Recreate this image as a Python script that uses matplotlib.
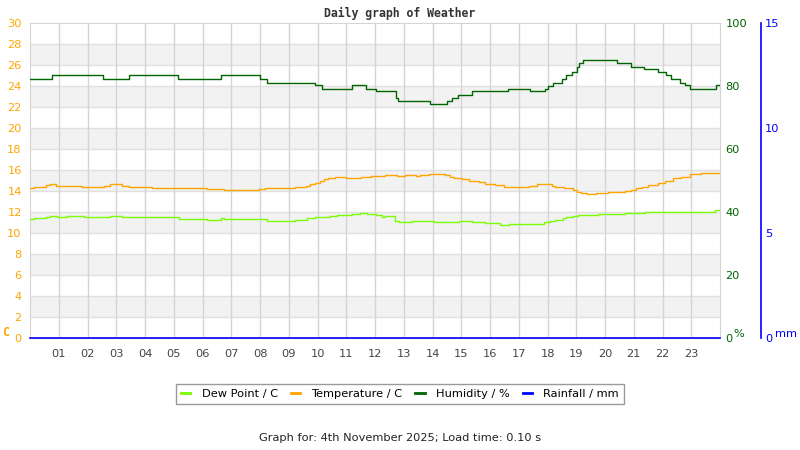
import matplotlib
matplotlib.use("Agg")

import matplotlib.pyplot as plt

# hour of day -> value (sample and hold)
hum_t = [0, 0.77, 2.53, 3.43, 5.14, 6.65, 8.0, 8.23, 9.93, 10.17, 11.21, 11.67, 12.05, 12.73, 12.8,
         13.92, 14.5, 14.67, 14.9, 15.36, 16.64, 17.39, 17.91, 18.03, 18.2, 18.49, 18.66, 18.84,
         19.01, 19.09, 19.24, 20.42, 20.89, 21.35, 21.84, 22.13, 22.31, 22.6, 22.77, 22.94, 23.87, 24]
hum_v = [82.2, 83.4, 82.2, 83.4, 82.2, 83.4, 82.2, 81.1, 80.2, 79.2, 80.2, 79.2, 78.4, 76.3, 75.1,
         74.2, 75.1, 76.3, 77.3, 78.4, 79.2, 78.4, 79.2, 80.1, 81.1, 82.1, 83.4, 84.4,
         86.1, 87.2, 88.2, 87.2, 86.1, 85.5, 84.4, 83.4, 82.2, 81.1, 80.2, 79.2, 80.2, 80.2]

temp_t = [0, 0.13, 0.54, 0.68, 0.91, 1.81, 2.56, 2.79, 3.2, 3.43, 4.24, 6.16, 6.74, 7.95, 8.19,
          9.23, 9.61, 9.75, 9.92, 10.07, 10.21, 10.36, 10.6, 10.99, 11.51, 11.86, 12.25, 12.36,
          12.77, 13.06, 13.41, 13.58, 13.87, 14.45, 14.62, 14.74, 15.03, 15.26, 15.61, 15.84,
          16.18, 16.48, 17.34, 17.63, 18.14, 18.26, 18.59, 18.87, 19.01, 19.16, 19.36, 19.7,
          20.11, 20.69, 20.89, 21.09, 21.29, 21.5, 21.84, 22.08, 22.37, 22.66, 22.94, 23.35, 24]
temp_v = [14.29, 14.38, 14.54, 14.63, 14.5, 14.35, 14.5, 14.63, 14.5, 14.35, 14.25, 14.19, 14.06,
          14.19, 14.29, 14.38, 14.5, 14.67, 14.79, 14.92, 15.11, 15.2, 15.3, 15.2, 15.3, 15.46,
          15.4, 15.52, 15.4, 15.56, 15.43, 15.56, 15.65, 15.49, 15.33, 15.2, 15.11, 14.95, 14.83,
          14.7, 14.57, 14.35, 14.5, 14.63, 14.5, 14.35, 14.25, 14.13, 13.94, 13.78, 13.68, 13.78,
          13.87, 14.0, 14.13, 14.25, 14.38, 14.6, 14.73, 14.95, 15.2, 15.33, 15.59, 15.68, 15.68]

dew_t = [0, 0.13, 0.54, 0.71, 0.94, 1.29, 1.87, 2.79, 3.2, 3.49, 5.17, 6.16, 6.63, 6.74, 8.25,
         9.23, 9.63, 9.92, 10.16, 10.44, 10.68, 11.2, 11.49, 11.72, 12.0, 12.02, 12.25, 12.36,
         12.71, 12.83, 13.29, 14.04, 14.91, 15.37, 15.84, 16.36, 16.65, 17.4, 17.87, 18.08,
         18.26, 18.54, 18.66, 18.9, 19.07, 19.76, 20.11, 20.69, 21.38, 21.84, 23.35, 23.81, 24]
dew_v = [11.3, 11.4, 11.52, 11.65, 11.52, 11.59, 11.49, 11.59, 11.52, 11.49, 11.3, 11.2, 11.4,
         11.3, 11.11, 11.2, 11.4, 11.52, 11.5, 11.62, 11.71, 11.81, 11.9, 11.81, 11.84, 11.71,
         11.52, 11.59, 11.14, 11.08, 11.14, 11.02, 11.14, 11.02, 10.92, 10.73, 10.83, 10.86,
         11.02, 11.14, 11.24, 11.4, 11.52, 11.62, 11.71, 11.78, 11.84, 11.94, 12.03, 11.97,
         12.03, 12.22, 12.22]

rain_t = [0, 24]
rain_v = [0, 0]

hour_labels = ["%02d" % h for h in range(1, 24)]

c_dew = "#7CFC00"
c_temp = "#FFA500"
c_hum = "#006400"
c_rain = "#0000FF"
grid_c = "#d4d4d4"
fs = 8.2

fig = plt.figure(figsize=(8, 4.5), dpi=100)
ax = fig.add_axes([30 / 800, 112 / 450, 690 / 800, 315 / 450])

# background bands and grid
for y in range(2, 30, 4):
    ax.axhspan(y, y + 2, color="#f2f2f2", zorder=0, lw=0)
for y in range(2, 30, 2):
    ax.axhline(y, color="#e0e0e0", lw=1, zorder=1)
for h in range(1, 24):
    ax.axvline(h, color=grid_c, lw=1, zorder=1)

ax.set_xlim(0, 24)
ax.set_ylim(0, 30)
ax.set_yticks(range(0, 31, 2))
ax.set_xticks(range(1, 24))
ax.set_xticklabels(hour_labels)
ax.tick_params(axis="y", length=0, pad=6, labelsize=fs, labelcolor=c_temp)
ax.tick_params(axis="x", length=0, pad=8, labelsize=fs, labelcolor="#444444")
for s in ax.spines.values():
    s.set_color(grid_c)

l_dew, = ax.plot(dew_t, dew_v, drawstyle="steps-post", color=c_dew, lw=1, zorder=3)
l_temp, = ax.plot(temp_t, temp_v, drawstyle="steps-post", color=c_temp, lw=1, zorder=3)

ax2 = ax.twinx()
ax2.set_ylim(0, 100)
ax2.set_yticks([0, 20, 40, 60, 80, 100])
ax2.tick_params(axis="y", length=0, pad=4, labelsize=fs, labelcolor=c_hum)
for s in ax2.spines.values():
    s.set_visible(False)
l_hum, = ax2.plot(hum_t, hum_v, drawstyle="steps-post", color=c_hum, lw=1, zorder=3)

ax3 = ax.twinx()
ax3.set_ylim(0, 15)
ax3.set_yticks([0, 5, 10, 15])
ax3.spines["right"].set_position(("axes", 731 / 690))
ax3.spines["right"].set_color(c_rain)
ax3.spines["right"].set_linewidth(1.2)
for k in ["left", "top", "bottom"]:
    ax3.spines[k].set_visible(False)
ax3.tick_params(axis="y", length=0, pad=3, labelsize=fs, labelcolor=c_rain)
l_rain, = ax3.plot(rain_t, rain_v, color=c_rain, lw=1.2, zorder=4, clip_on=False)

fig.text(400 / 800, 1 - 13 / 450, "Daily graph of Weather", ha="center", va="center",
         fontsize=8.3, fontweight="bold", family="DejaVu Sans Mono", color="#333333")
fig.text(6 / 800, 1 - 333 / 450, "C", ha="center", va="center", fontsize=8.3,
         fontweight="bold", family="DejaVu Sans Mono", color=c_temp)
fig.text(739 / 800, 1 - 334 / 450, "%", ha="center", va="center", fontsize=fs, color=c_hum)
fig.text(786 / 800, 1 - 334 / 450, "mm", ha="center", va="center", fontsize=fs, color=c_rain)

leg = fig.legend([l_dew, l_temp, l_hum, l_rain],
                 ["Dew Point / C", "Temperature / C", "Humidity / %", "Rainfall / mm"],
                 loc="center", bbox_to_anchor=(400 / 800, 1 - 394 / 450), ncol=4,
                 fontsize=fs, frameon=True, fancybox=False, edgecolor="#808080",
                 handlelength=0.8, handletextpad=1.0, columnspacing=1.15, borderpad=0.4)
leg.get_frame().set_linewidth(1)
for line in leg.get_lines():
    line.set_linewidth(2)

fig.text(400 / 800, 1 - 438 / 450, "Graph for: 4th November 2025; Load time: 0.10 s",
         ha="center", va="center", fontsize=fs, color="#222222")

fig.savefig("out.png", dpi=100)
